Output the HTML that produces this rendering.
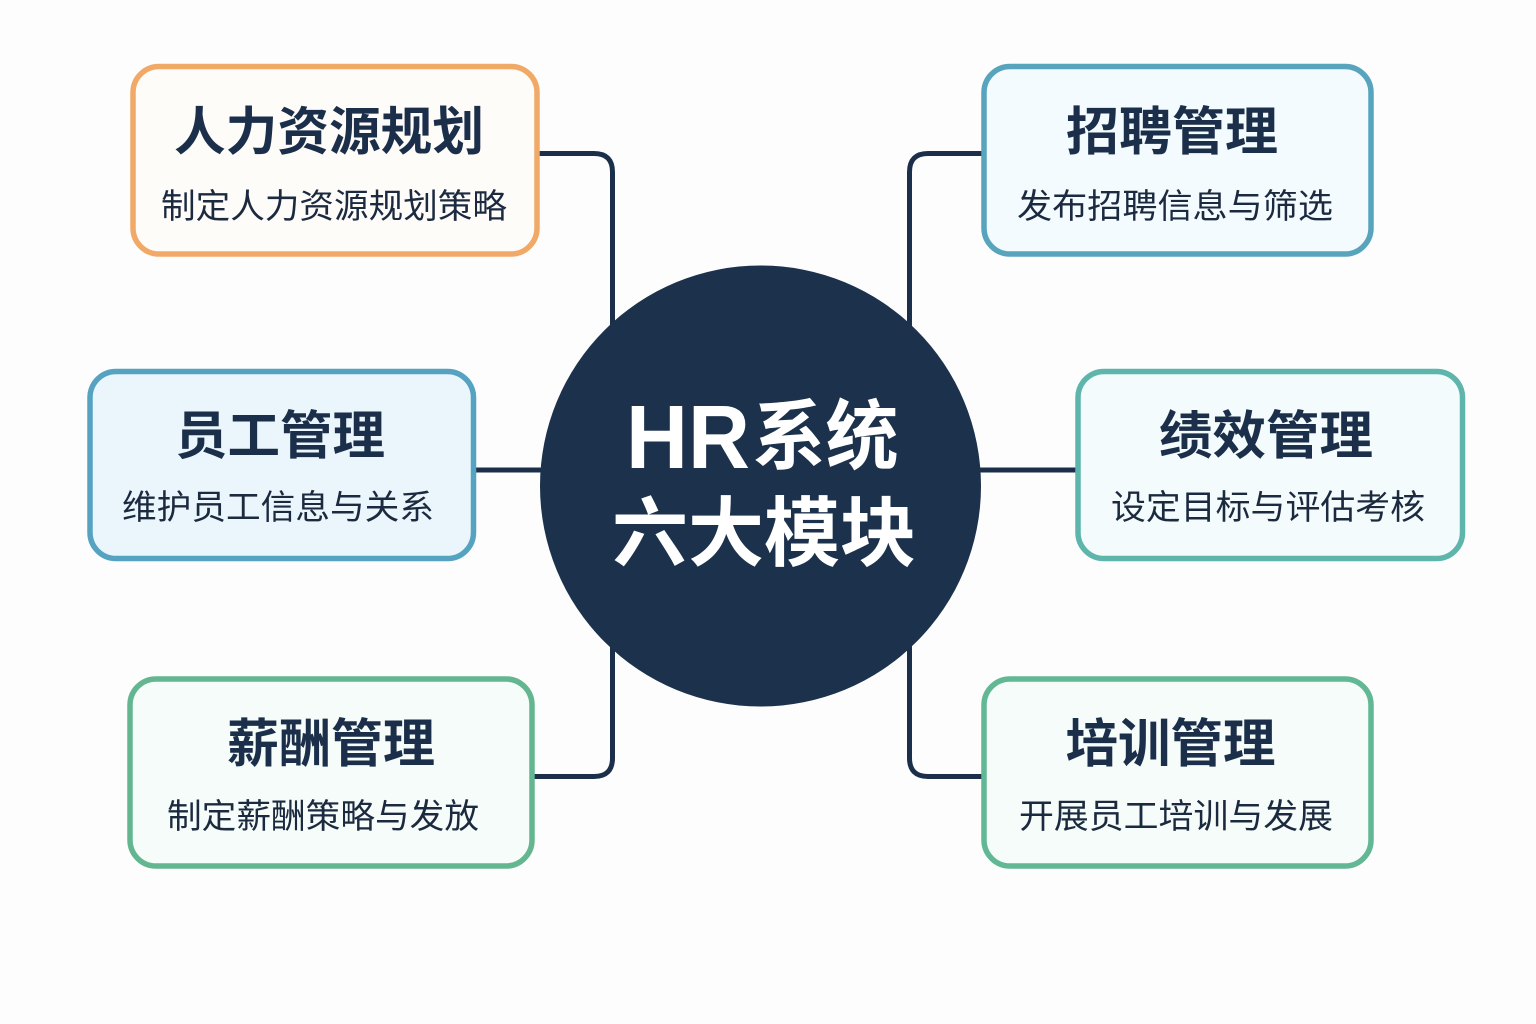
<!DOCTYPE html>
<html lang="zh">
<head>
<meta charset="utf-8">
<style>
html,body{margin:0;padding:0;background:#fdfdfd}
svg{display:block}
text{font-family:"Liberation Sans","Noto Sans CJK SC",sans-serif;text-anchor:middle}
.t{font-size:52px;font-weight:700;fill:#1c2f4a}
.s{font-size:34px;font-weight:400;fill:#1c2a40}
.c{font-size:76px;font-weight:700;fill:#ffffff}
.h{font-size:90px;font-weight:700;fill:#ffffff}
.l{fill:none;stroke:#1c2f4a;stroke-width:5}
.b{stroke-width:5.5}
</style>
</head>
<body>
<svg width="1536" height="1024" viewBox="0 0 1536 1024" xmlns="http://www.w3.org/2000/svg">
<rect width="1536" height="1024" fill="#fdfdfd"/>
<path class="l" d="M538 153.500H594Q612.500 153.500 612.500 172V340"/>
<path class="l" d="M984 153.500H928Q909.500 153.500 909.500 172V340"/>
<path class="l" d="M474 470H560"/>
<path class="l" d="M960 470H1078"/>
<path class="l" d="M534 776.500H594Q612.500 776.500 612.500 758V630"/>
<path class="l" d="M984 776.500H928Q909.500 776.500 909.500 758V630"/>
<circle cx="760.500" cy="486" r="220.500" fill="#1c314c"/>
<rect class="b" x="133" y="66.500" width="404" height="187.500" rx="26" fill="#fefcf9" stroke="#f1a968"/>
<rect class="b" x="984" y="66.500" width="387" height="187.500" rx="26" fill="#f3fbfe" stroke="#58a4bd"/>
<rect class="b" x="90" y="371.500" width="383.500" height="187" rx="26" fill="#eaf6fc" stroke="#55a3c0"/>
<rect class="b" x="1078" y="371.500" width="384.500" height="187" rx="26" fill="#f3fbfc" stroke="#5db5ab"/>
<rect class="b" x="130" y="679" width="402" height="187" rx="26" fill="#f6fcf9" stroke="#63b68f"/>
<rect class="b" x="984" y="679" width="387" height="187" rx="26" fill="#f5fcf9" stroke="#62b795"/>
<text class="t" x="329" y="150" textLength="310" lengthAdjust="spacingAndGlyphs">人力资源规划</text>
<text class="s" x="334" y="218" textLength="346" lengthAdjust="spacingAndGlyphs">制定人力资源规划策略</text>
<text class="t" x="1172" y="150" textLength="212" lengthAdjust="spacingAndGlyphs">招聘管理</text>
<text class="s" x="1175" y="218" textLength="316" lengthAdjust="spacingAndGlyphs">发布招聘信息与筛选</text>
<text class="t" x="280" y="454" textLength="210" lengthAdjust="spacingAndGlyphs">员工管理</text>
<text class="s" x="278" y="519" textLength="312" lengthAdjust="spacingAndGlyphs">维护员工信息与关系</text>
<text class="t" x="1266" y="454" textLength="214" lengthAdjust="spacingAndGlyphs">绩效管理</text>
<text class="s" x="1268" y="519" textLength="314" lengthAdjust="spacingAndGlyphs">设定目标与评估考核</text>
<text class="t" x="331" y="762" textLength="208" lengthAdjust="spacingAndGlyphs">薪酬管理</text>
<text class="s" x="323" y="828" textLength="312" lengthAdjust="spacingAndGlyphs">制定薪酬策略与发放</text>
<text class="t" x="1170.500" y="762" textLength="210" lengthAdjust="spacingAndGlyphs">培训管理</text>
<text class="s" x="1176" y="828" textLength="314" lengthAdjust="spacingAndGlyphs">开展员工培训与发展</text>
<text class="h" x="688" y="468" textLength="124" lengthAdjust="spacingAndGlyphs">HR</text>
<text class="c" x="825.500" y="463" textLength="146" lengthAdjust="spacingAndGlyphs">系统</text>
<text class="c" x="764" y="560" textLength="304" lengthAdjust="spacingAndGlyphs">六大模块</text>
</svg>
</body>
</html>
